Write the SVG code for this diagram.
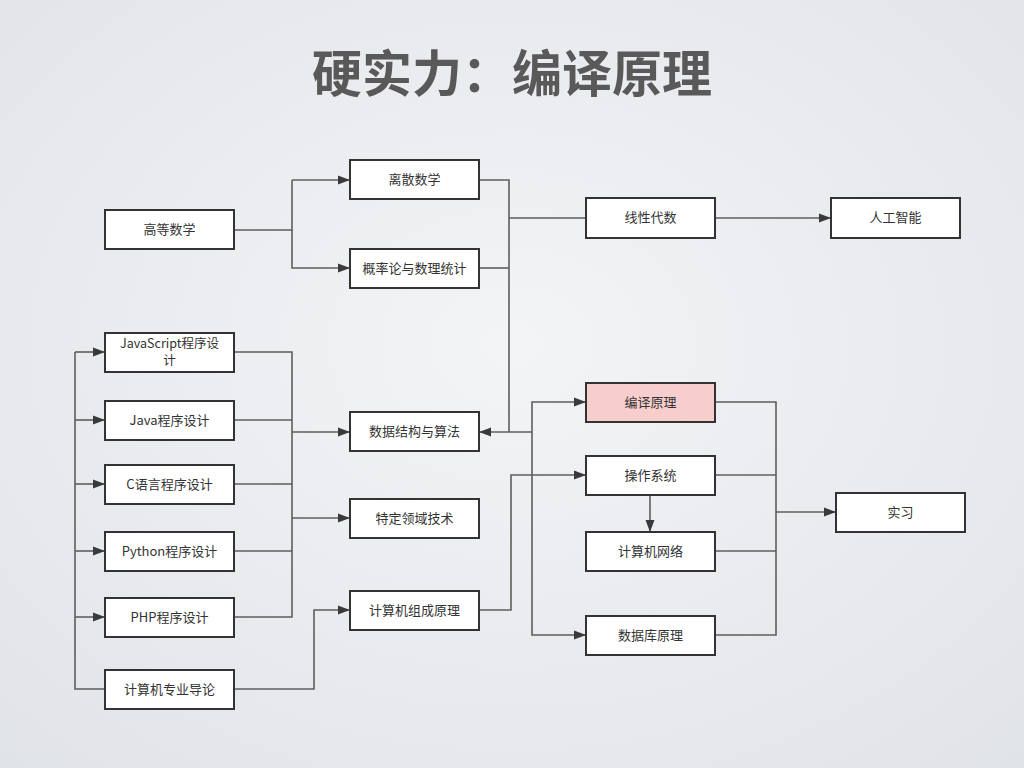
<svg xmlns="http://www.w3.org/2000/svg" width="1024" height="768" viewBox="0 0 1024 768">
<defs>
<radialGradient id="bg" cx="50%" cy="45%" r="75%">
<stop offset="0" stop-color="#f3f4f6"/>
<stop offset="1" stop-color="#e0e3e8"/>
</radialGradient>
<marker id="arr" viewBox="0 0 12 10" refX="12" refY="5" markerWidth="12" markerHeight="10" markerUnits="userSpaceOnUse" orient="auto">
<path d="M0,0.5 L12,5 L0,9.5 Z" fill="#3a3a3a"/>
</marker>
<style>
.n rect{fill:#fff;stroke:#333;stroke-width:2}
.n text{font-family:"Noto Sans CJK SC","Liberation Sans",sans-serif;font-size:13px;fill:#333;text-anchor:middle}
.n text.s{font-size:12.5px}
.c path{fill:none;stroke:#5e5e5e;stroke-width:1.6}
.c .a{marker-end:url(#arr)}
</style>
</defs>
<rect width="1024" height="768" fill="url(#bg)"/>
<text x="512" y="92" font-family="Noto Sans CJK SC,sans-serif" font-size="50" font-weight="bold" fill="#595959" text-anchor="middle">硬实力：编译原理</text>

<g class="c" id="connectors">
<path d="M234,230 H292 V180"/>
<path class="a" d="M292,180 H350"/>
<path class="a" d="M292,230 V268 H350"/>
<path d="M479,180 H509 V432"/>
<path d="M479,268 H509"/>
<path d="M509,218 H586"/>
<path class="a" d="M715,218 H831"/>
<path class="a" d="M532,432 H479"/>
<path class="a" d="M532,432 V402 H586"/>
<path class="a" d="M532,432 V635 H586"/>
<path d="M105,689 H75 V352"/>
<path class="a" d="M75,352 H105"/>
<path class="a" d="M75,420 H105"/>
<path class="a" d="M75,484 H105"/>
<path class="a" d="M75,551 H105"/>
<path class="a" d="M75,617 H105"/>
<path d="M234,352 H292 V617 H234"/>
<path d="M234,420 H292"/>
<path d="M234,484 H292"/>
<path d="M234,551 H292"/>
<path class="a" d="M292,432 H350"/>
<path class="a" d="M292,518 H350"/>
<path class="a" d="M234,689 H314 V610 H350"/>
<path class="a" d="M479,610 H511 V475 H586"/>
<path class="a" d="M650,495 V532"/>
<path d="M715,402 H776 V635 H715"/>
<path d="M715,475 H776"/>
<path d="M715,551 H776"/>
<path class="a" d="M776,512 H836"/>
</g>

<g class="n" id="n1"><rect x="105" y="210" width="129" height="39"/><text x="169.5" y="234">高等数学</text></g>
<g class="n" id="n2"><rect x="350" y="160" width="129" height="39"/><text x="414.5" y="184">离散数学</text></g>
<g class="n" id="n3"><rect x="350" y="249" width="129" height="39"/><text x="414.5" y="273">概率论与数理统计</text></g>
<g class="n" id="n4"><rect x="586" y="198" width="129" height="40"/><text x="650.5" y="222">线性代数</text></g>
<g class="n" id="n5"><rect x="831" y="198" width="129" height="40"/><text x="895.5" y="222">人工智能</text></g>
<g class="n" id="n6"><rect x="105" y="333" width="129" height="39"/><text class="s" x="169.5" y="348">JavaScript程序设</text><text class="s" x="169.5" y="365">计</text></g>
<g class="n" id="n7"><rect x="105" y="401" width="129" height="39"/><text x="169.5" y="425">Java程序设计</text></g>
<g class="n" id="n8"><rect x="105" y="465" width="129" height="39"/><text x="169.5" y="489">C语言程序设计</text></g>
<g class="n" id="n9"><rect x="105" y="532" width="129" height="39"/><text x="169.5" y="556">Python程序设计</text></g>
<g class="n" id="n10"><rect x="105" y="598" width="129" height="39"/><text x="169.5" y="622">PHP程序设计</text></g>
<g class="n" id="n11"><rect x="105" y="670" width="129" height="39"/><text x="169.5" y="694">计算机专业导论</text></g>
<g class="n" id="n12"><rect x="350" y="412" width="129" height="39"/><text x="414.5" y="436">数据结构与算法</text></g>
<g class="n" id="n13"><rect x="350" y="499" width="129" height="39"/><text x="414.5" y="523">特定领域技术</text></g>
<g class="n" id="n14"><rect x="350" y="591" width="129" height="39"/><text x="414.5" y="615">计算机组成原理</text></g>
<g class="n" id="n15"><rect x="586" y="383" width="129" height="39" style="fill:#f8cecc"/><text x="650.5" y="407">编译原理</text></g>
<g class="n" id="n16"><rect x="586" y="456" width="129" height="39"/><text x="650.5" y="480">操作系统</text></g>
<g class="n" id="n17"><rect x="586" y="532" width="129" height="39"/><text x="650.5" y="556">计算机网络</text></g>
<g class="n" id="n18"><rect x="586" y="616" width="129" height="39"/><text x="650.5" y="640">数据库原理</text></g>
<g class="n" id="n19"><rect x="836" y="493" width="129" height="39"/><text x="900.5" y="517">实习</text></g>
</svg>
